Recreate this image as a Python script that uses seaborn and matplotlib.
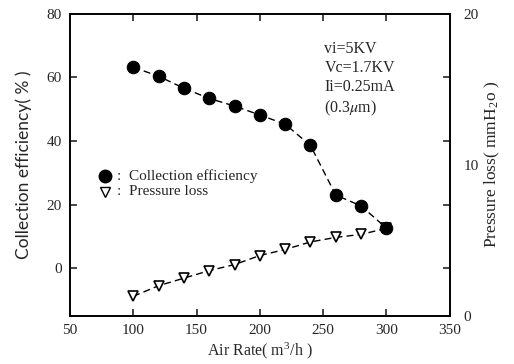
import matplotlib
matplotlib.use("Agg")
import matplotlib.pyplot as plt
import seaborn as sns
import pandas as pd

# Data
air_rate = [100, 120, 140, 160, 180, 200, 220, 240, 260, 280, 300]
collection_eff = [63.2, 60.4, 56.6, 53.4, 51.0, 48.2, 45.3, 38.6, 23.0, 19.6, 12.6]
pressure_loss = [1.3, 2.0, 2.5, 3.0, 3.4, 4.0, 4.4, 4.9, 5.2, 5.4, 5.8]

x_ticks = [50, 100, 150, 200, 250, 300, 350]
left_ticks = [0, 20, 40, 60, 80]
right_ticks = [0, 10, 20]

df = pd.DataFrame({"air": air_rate, "eff": collection_eff, "dp": pressure_loss})

sns.set_style("ticks")
plt.rcParams["font.family"] = ["Liberation Serif", "DejaVu Serif"]
plt.rcParams["mathtext.fontset"] = "stix"

fig = plt.figure(figsize=(5.14, 3.64), dpi=100)
ax = fig.add_axes([0.136, 0.132, 0.739, 0.830])
ax2 = ax.twinx()
# circles drawn above the triangles
ax.set_zorder(ax2.get_zorder() + 1)
ax.patch.set_visible(False)

sns.lineplot(data=df, x="air", y="eff", ax=ax, color="black", linestyle=(0, (5, 3)),
             linewidth=1.0, marker="o", markersize=9, markeredgecolor="black",
             markerfacecolor="black")
sns.lineplot(data=df, x="air", y="dp", ax=ax2, color="black", linestyle=(0, (5, 3)),
             linewidth=1.0, marker="v", markersize=7, markeredgecolor="black",
             markerfacecolor="white", markeredgewidth=1.2)

ax.set_xlim(50, 350)
ax.set_ylim(-15, 80)
ax2.set_ylim(0, 20)
ax.set_xticks(x_ticks)
ax.set_yticks(left_ticks)
ax2.set_yticks(right_ticks)
# right axis tick marks sit where left axis ticks are
lo, hi = ax.get_ylim()
ax2.set_yticks([(t - lo) / (hi - lo) * 20 for t in left_ticks[:-1]], minor=True)

for a in (ax, ax2):
    for s in a.spines.values():
        s.set_linewidth(1.2)
        s.set_color("black")
ax.tick_params(axis="both", direction="in", length=5, width=1.2, labelsize=11,
               top=True, pad=6)
ax.tick_params(axis="y", right=False)
ax2.tick_params(axis="y", which="major", length=0, labelsize=11, pad=10)
ax2.tick_params(axis="y", which="minor", direction="in", length=5, width=1.2)

ax.set_xlabel("Air Rate( m$^{\\mathregular{3}}$/h )", fontsize=11.5, labelpad=2)
ax.set_ylabel("Collection efficiency( % )", fontsize=12.5, family=["Lato", "DejaVu Sans"],
              labelpad=10)
ax2.set_ylabel("Pressure loss( mmH$_{\\mathregular{2}}$o )", fontsize=12.5, labelpad=3)

# legend-like labels inside the plot
ax.plot([78], [29.0], marker="o", markersize=9, color="black", linestyle="none")
ax.text(87, 29.0, ":  Collection efficiency", fontsize=11, va="center")
ax.plot([78], [24.0], marker="v", markersize=7, color="black",
        markerfacecolor="white", linestyle="none")
ax.text(87, 24.0, ":  Pressure loss", fontsize=11, va="center")

ax.text(0.67, 0.91, "vi=5KV\nVc=1.7KV\nIi=0.25mA\n(0.3$\\mu$m)", transform=ax.transAxes,
        fontsize=11.5, va="top", ha="left", linespacing=1.25)

fig.savefig("out.png", dpi=100)
